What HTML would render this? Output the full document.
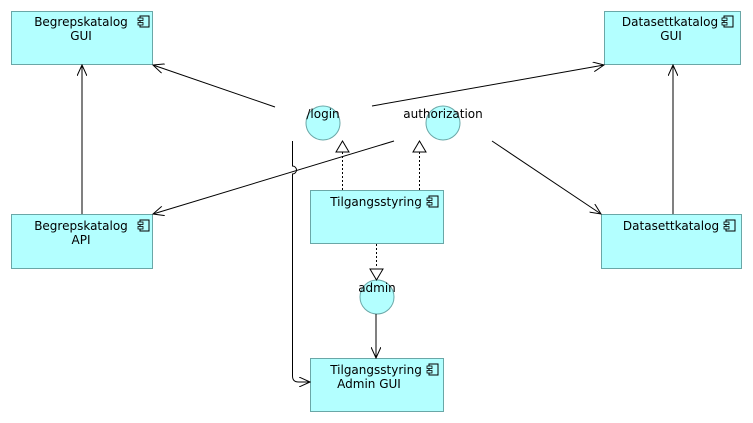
<!DOCTYPE html>
<html><head><style>
html,body{margin:0;padding:0;background:#fff;width:753px;height:423px;overflow:hidden}
svg{display:block;font-family:"DejaVu Sans","Liberation Sans",sans-serif;font-size:12px}
</style></head><body>
<svg width="753" height="423" viewBox="0 0 753 423">
<defs>
<marker id="a" markerWidth="12" markerHeight="10" refX="11" refY="5" orient="auto" markerUnits="userSpaceOnUse">
<path d="M0,0 L11,5 L0,10" fill="none" stroke="#000" stroke-width="1"/></marker>
<g id="ic"><rect x="2" y="0" width="9" height="11" fill="none" stroke="#000"/><rect x="0" y="2" width="5" height="2.5" fill="#b3ffff" stroke="#000" stroke-width="0.8"/><rect x="0" y="6.5" width="5" height="2.5" fill="#b3ffff" stroke="#000" stroke-width="0.8"/></g>
</defs>
<g fill="#b3ffff" stroke="#6aa7a7">
<rect x="11.5" y="11.5" width="141" height="53"/>
<rect x="604.5" y="11.5" width="136" height="53"/>
<rect x="11.5" y="214.5" width="141" height="54"/>
<rect x="310.5" y="190.5" width="133" height="53"/>
<rect x="601.5" y="214.5" width="140" height="54"/>
<rect x="310.5" y="358.5" width="133" height="53"/>
<circle cx="323" cy="123" r="17"/>
<circle cx="443" cy="123" r="17"/>
<circle cx="377" cy="297" r="17"/>
</g>
<use href="#ic" x="138" y="16"/>
<use href="#ic" x="722" y="16"/>
<use href="#ic" x="138" y="220"/>
<use href="#ic" x="427" y="196"/>
<use href="#ic" x="724" y="220"/>
<use href="#ic" x="427" y="364"/>
<g fill="#000" text-anchor="middle">
<text x="81" y="26">Begrepskatalog</text><text x="81" y="40">GUI</text>
<text x="670" y="26">Datasettkatalog</text><text x="671" y="40">GUI</text>
<text x="81" y="230">Begrepskatalog</text><text x="81" y="244">API</text>
<text x="376" y="206">Tilgangsstyring</text>
<text x="671" y="230">Datasettkatalog</text>
<text x="376" y="374">Tilgangsstyring</text><text x="369" y="388">Admin GUI</text>
<text x="323" y="118">/login</text>
<text x="443" y="118">authorization</text>
<text x="377" y="292">admin</text>
</g>
<g stroke="#000" fill="none" stroke-width="1">
<line x1="275" y1="107" x2="153" y2="65" marker-end="url(#a)"/>
<line x1="372" y1="106" x2="604" y2="65" marker-end="url(#a)"/>
<line x1="394" y1="141" x2="153" y2="214" marker-end="url(#a)"/>
<line x1="492" y1="141" x2="601" y2="214" marker-end="url(#a)"/>
<line x1="82" y1="214" x2="82" y2="65" marker-end="url(#a)"/>
<line x1="673" y1="214" x2="673" y2="65" marker-end="url(#a)"/>
<line x1="376" y1="314" x2="376" y2="358" marker-end="url(#a)"/>
<path d="M292.5,141 V166 a4,4 0 0 1 0,8 V376 q0,6 6,6 H310" marker-end="url(#a)"/>
<g stroke-dasharray="2,2">
<line x1="342.5" y1="190" x2="342.5" y2="152"/>
<line x1="419.5" y1="190" x2="419.5" y2="152"/>
<line x1="376.5" y1="244" x2="376.5" y2="268"/>
</g>
<g fill="#fff">
<path d="M342.5,141 L349,152 L336,152 Z"/>
<path d="M419.5,141 L426,152 L413,152 Z"/>
<path d="M376.5,280 L383,269 L370,269 Z"/>
</g>
</g>
</svg>
</body></html>
